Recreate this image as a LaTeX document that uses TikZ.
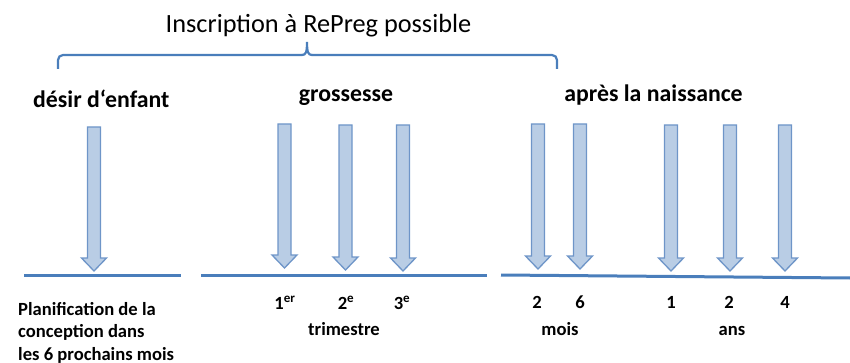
\documentclass[tikz,border=0pt]{standalone}
\usepackage{fontspec}
\setmainfont{Carlito}
\definecolor{linecol}{HTML}{4A7EBB}
\definecolor{arrfill}{HTML}{B9CDE5}
\definecolor{arrdraw}{HTML}{6E95C8}
\tikzset{
  arrowsty/.style={fill=arrfill, draw=arrdraw, line width=1.3pt, line join=miter},
  baseline line/.style={draw=linecol, line width=3pt},
  bracesty/.style={draw=linecol, line width=2.2pt},
  title/.style={font=\fontsize{26.3}{31}\selectfont, inner sep=0pt, anchor=base},
  heading/.style={font=\bfseries\fontsize{23.8}{28}\selectfont, inner sep=0pt, anchor=base},
  lab/.style={font=\bfseries\fontsize{18.6}{22}\selectfont, inner sep=0pt, anchor=base},
}
\newcommand\bigarr[3]{%
  \draw[arrowsty] (#1-6.5,#2) -- (#1+6.5,#2) -- (#1+6.5,#3-13) -- (#1+12.5,#3-13)
    -- (#1,#3) -- (#1-12.5,#3-13) -- (#1-6.5,#3-13) -- cycle;}
\begin{document}
\begin{tikzpicture}[x=1pt,y=-1pt]
\useasboundingbox (0,0) rectangle (850,363);
% brace
\draw[bracesty, rounded corners=5pt] (58,69) -- (58,55) -- (302,55);
\draw[bracesty, rounded corners=5pt] (312,55) -- (557,55) -- (557,69);
\draw[bracesty] (302,55) .. controls (306,55) and (307,52) .. (307,42)
  .. controls (307,52) and (308,55) .. (312,55);
\node[title] (insc) at (318.5,33) {Inscription à RePreg possible};
% headings
\node[heading, anchor=base west] (desir) at (33,108) {désir d‘enfant};
\node[heading] (gross) at (346,102) {grossesse};
\node[heading] (apres) at (653.5,102) {après la naissance};
% baselines
\coordinate (l1a) at (24,275); \coordinate (l1b) at (181,275);
\coordinate (l2a) at (201,275); \coordinate (l2b) at (487,275);
\coordinate (l3a) at (501,275); \coordinate (l3b) at (850,278);
\draw[baseline line] (l1a) -- (l1b);
\draw[baseline line] (l2a) -- (l2b);
\draw[baseline line] (l3a) -- (l3b);
% arrows
\bigarr{94}{127}{271}
\bigarr{284.5}{124}{268}
\bigarr{345.5}{125}{270}
\bigarr{403}{125}{271}
\bigarr{538}{124}{269}
\bigarr{580}{124}{269}
\bigarr{671}{125}{271}
\bigarr{730}{125}{271}
\bigarr{785}{125}{271}
% labels
\node[lab, anchor=base west] (plan1) at (18,315) {Planification de la};
\node[lab, anchor=base west] (plan2) at (18,337.5) {conception dans};
\node[lab, anchor=base west] (plan3) at (18,360) {les 6 prochains mois};
\node[lab] (t1) at (285,309) {1\textsuperscript{er}};
\node[lab] (t2) at (346,309) {2\textsuperscript{e}};
\node[lab] (t3) at (402,309) {3\textsuperscript{e}};
\node[lab] (trim) at (344,335) {trimestre};
\node[lab] (m2) at (537,308) {2};
\node[lab] (m6) at (580,308) {6};
\node[lab] (mois) at (560,335) {mois};
\node[lab] (a1) at (671,308) {1};
\node[lab] (a2) at (729,308) {2};
\node[lab] (a4) at (785,308) {4};
\node[lab] (ans) at (732,335) {ans};
\end{tikzpicture}
\end{document}
